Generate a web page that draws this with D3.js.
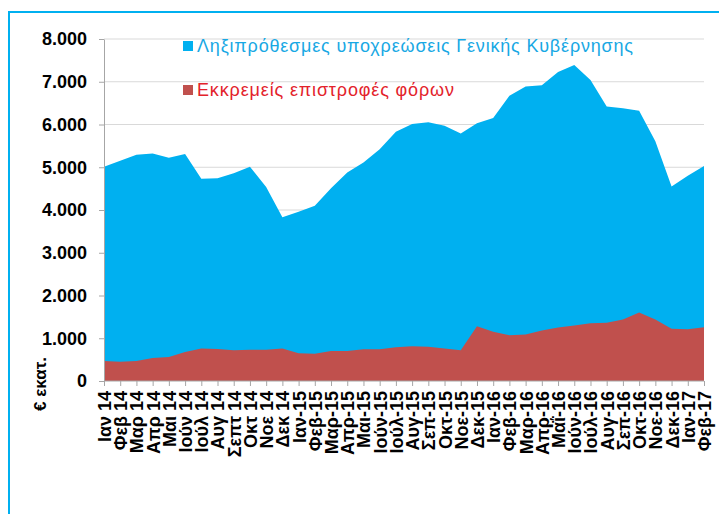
<!DOCTYPE html>
<html>
<head>
<meta charset="utf-8">
<script src="https://cdn.jsdelivr.net/npm/d3@7"></script>
<style>
  body { margin: 0; background: #fff; }
  svg { display: block; font-family: "Liberation Sans", Arial, sans-serif; }
</style>
</head>
<body>
<div class="chart"></div>
<script>
// months Jan 2014 - Feb 2017
var months = [
  "Ιαν 14", "Φεβ 14", "Μαρ 14", "Απρ 14", "Μαι 14", "Ιούν 14", "Ιούλ 14", "Αυγ 14",
  "Σεπτ 14", "Οκτ 14", "Νοε 14", "Δεκ 14",
  "Ιαν-15", "Φεβ-15", "Μαρ-15", "Απρ-15", "Μαι-15", "Ιούν-15", "Ιούλ-15", "Αυγ-15",
  "Σεπ-15", "Οκτ-15", "Νοε-15", "Δεκ-15",
  "Ιαν-16", "Φεβ-16", "Μαρ-16", "Απρ-16", "Μαΐ-16", "Ιούν-16", "Ιούλ-16", "Αυγ-16",
  "Σεπ-16", "Οκτ-16", "Νοε-16", "Δεκ-16",
  "Ιαν-17", "Φεβ-17"
];

// arrears of general government (top of blue area)
var arrears = [
  5010, 5150, 5290, 5320, 5220, 5310, 4730, 4740, 4860, 5010, 4540, 3830,
  3960, 4100, 4510, 4880, 5110, 5420, 5830, 6010, 6050, 5970, 5790, 6030,
  6150, 6670, 6890, 6920, 7230, 7390, 7040, 6420, 6380, 6320, 5610, 4550,
  4800, 5030
];

// pending tax refunds (red area)
var refunds = [
  470, 450, 470, 540, 560, 680, 760, 750, 720, 730, 730, 760,
  650, 640, 700, 700, 740, 740, 790, 810, 800, 760, 720, 1280,
  1150, 1070, 1090, 1180, 1250, 1300, 1350, 1360, 1440, 1600, 1440, 1220,
  1210, 1260
];

var yTicks = [0, 1000, 2000, 3000, 4000, 5000, 6000, 7000, 8000];

var legendNames = ["Ληξιπρόθεσμες υποχρεώσεις Γενικής Κυβέρνησης", "Εκκρεμείς επιστροφές φόρων"];

var W = 719, H = 514;
var plotL = 104, plotR = 704, plotT = 39, plotB = 381;

var svg = d3.select(".chart").append("svg")
  .attr("width", W)
  .attr("height", H);

// frame
svg.append("path")
  .attr("d", "M9 " + H + " L9 12 L" + W + " 12")
  .attr("fill", "none")
  .attr("stroke", "#00b0f0")
  .attr("stroke-width", 2);

var x = d3.scalePoint().domain(months).range([plotL, plotR]);
var y = d3.scaleLinear().domain([0, 8000]).range([plotB, plotT]);

var fmt = d3.formatLocale({decimal: ",", thousands: ".", grouping: [3], currency: ["", "€"]}).format(",");

// gridlines
svg.append("g")
  .selectAll("line")
  .data(yTicks.slice(1))
  .enter().append("line")
  .attr("x1", plotL)
  .attr("x2", plotR)
  .attr("y1", function(d){ return y(d); })
  .attr("y2", function(d){ return y(d); })
  .attr("stroke", "#d9d9d9")
  .attr("stroke-width", 1);

var area = function(values){
  return d3.area()
    .x(function(d, i){ return x(months[i]); })
    .y0(y(0))
    .y1(function(d){ return y(d); })(values);
};

svg.append("path")
  .attr("d", area(arrears))
  .attr("fill", "#00b0f0");

svg.append("path")
  .attr("d", area(refunds))
  .attr("fill", "#c0504d");

// y axis
var yAxis = svg.append("g")
  .attr("transform", "translate(" + plotL + ",0)")
  .call(d3.axisLeft(y).tickValues(yTicks).tickFormat(fmt).tickSize(5).tickSizeOuter(0));
yAxis.select(".domain").attr("stroke", "#a6a6a6");
yAxis.selectAll(".tick line").attr("stroke", "#a6a6a6");
yAxis.selectAll("text")
  .attr("x", -17)
  .attr("fill", "#000")
  .style("font-size", "18px")
  .style("font-weight", "bold")
  .style("font-family", "Liberation Sans, Arial, sans-serif");

// x axis
var xAxis = svg.append("g")
  .attr("transform", "translate(0," + plotB + ")")
  .call(d3.axisBottom(x).tickSize(5).tickSizeOuter(0));
xAxis.select(".domain").attr("stroke", "#a6a6a6").attr("d", "M" + plotL + ",0H" + plotR);
xAxis.selectAll(".tick line").attr("stroke", "#a6a6a6");
xAxis.selectAll("text")
  .attr("transform", "rotate(-90)")
  .attr("text-anchor", "end")
  .attr("x", -10)
  .attr("y", 0)
  .attr("dy", "0.36em")
  .attr("fill", "#000")
  .style("font-size", "18px")
  .style("font-weight", "bold")
  .style("font-family", "Liberation Sans, Arial, sans-serif");

// y title
svg.append("text")
  .attr("transform", "translate(46,384) rotate(-90)")
  .attr("text-anchor", "middle")
  .style("font-size", "17px")
  .style("font-weight", "bold")
  .text("€ εκατ.");

// legend
var legendColors = ["#00b0f0", "#c0504d"];
var legendText = ["#18a8e4", "#e3222b"];
var legendLen = [436, 257];
var lg = svg.append("g").selectAll("g").data(legendNames).enter().append("g")
  .attr("transform", function(d, i){ return "translate(183," + (46 + i * 44) + ")"; });
lg.append("rect")
  .attr("x", 0).attr("y", -5)
  .attr("width", 10).attr("height", 10)
  .attr("fill", function(d, i){ return legendColors[i]; });
lg.append("text")
  .attr("x", 14)
  .attr("dy", "0.35em")
  .attr("textLength", function(d, i){ return legendLen[i]; })
  .attr("lengthAdjust", "spacing")
  .attr("fill", function(d, i){ return legendText[i]; })
  .style("font-size", "18px")
  .text(function(d){ return d; });
</script>
</body>
</html>
